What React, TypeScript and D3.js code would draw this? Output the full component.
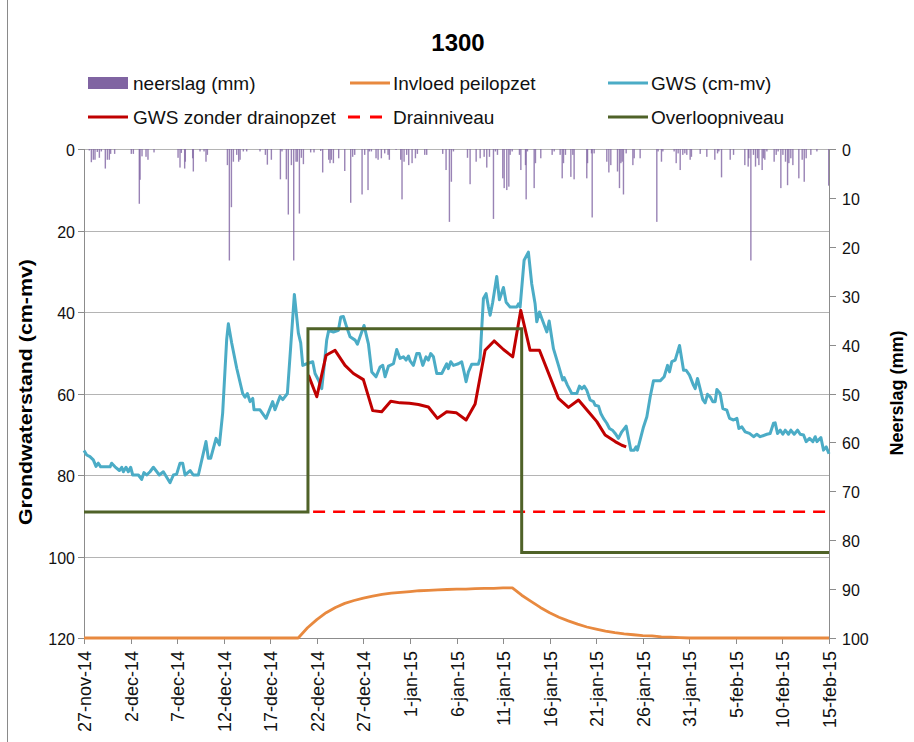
import React, { useRef, useEffect } from "react";
import * as d3 from "d3";

const W = 914;
const H = 742;
const START = Date.UTC(2014, 10, 27);

const tickLabels = [
  "27-nov-14", "2-dec-14", "7-dec-14", "12-dec-14", "17-dec-14", "22-dec-14",
  "27-dec-14", "1-jan-15", "6-jan-15", "11-jan-15", "16-jan-15", "21-jan-15",
  "26-jan-15", "31-jan-15", "5-feb-15", "10-feb-15", "15-feb-15",
];
const leftTicks = [0, 20, 40, 60, 80, 100, 120];
const rightTicks = [0, 10, 20, 30, 40, 50, 60, 70, 80, 90, 100];

// neerslag: [dag sinds 27-nov, mm]
const neerslag: [number, number][] = [
  [0.57, 0.3], [0.79, 2.7], [1.0, 2.2], [1.18, 2.2], [1.43, 0.6], [1.65, 1.8], [1.86, 0.5], [2.29, 4.0], [2.51, 2.2], [2.72, 2.2], [2.86, 1.0], [3.29, 1.0],
  [5.08, 1.0], [5.3, 1.0], [5.94, 11.2], [6.02, 6.3], [6.23, 1.5], [6.66, 1.6], [6.87, 2.2], [7.52, 0.7],
  [10.1, 1.8], [10.31, 3.8], [10.45, 0.8], [10.81, 4.0], [10.88, 2.6], [11.67, 1.9], [11.74, 4.6], [12.46, 0.5], [12.89, 0.5], [13.1, 2.6], [13.25, 1.2],
  [15.4, 3.3], [15.61, 22.8], [15.83, 11.9], [16.04, 2.6], [16.4, 1.2], [16.61, 2.6], [16.76, 2.2], [17.11, 0.5], [17.47, 0.5],
  [18.9, 0.5], [19.48, 1.2], [19.69, 3.2], [20.12, 2.2],
  [21.09, 6.2], [21.26, 0.5], [21.73, 6.2], [21.94, 13.4], [22.27, 3.3], [22.52, 22.8], [22.77, 2.6], [22.91, 2.6], [23.13, 13.2], [23.34, 1.8], [23.56, 3.1],
  [24.34, 0.7], [24.7, 0.7], [25.42, 0.4], [25.63, 4.8], [26.28, 2.2], [26.42, 2.9], [26.56, 2.2], [26.78, 2.9], [27.35, 1.9], [28.0, 4.5], [28.64, 11.0], [28.85, 1.6], [29.07, 1.2], [29.86, 9.3], [30.14, 1.2], [30.5, 8.4], [30.64, 0.5], [30.86, 0.5],
  [31.36, 1.9], [31.58, 2.2], [31.93, 1.9], [32.29, 0.9], [32.65, 1.2], [32.79, 2.2], [33.51, 0.2], [34.01, 2.2], [34.15, 10.3], [34.37, 2.6], [34.65, 1.2], [34.87, 3.3], [35.23, 2.9], [35.59, 1.9], [35.8, 1.0], [36.59, 1.2], [36.8, 1.2],
  [38.52, 1.0], [38.88, 4.3], [39.24, 14.9], [39.45, 6.7], [39.67, 0.5],
  [41.18, 1.8], [41.46, 7.2], [42.11, 2.6], [42.54, 1.9], [42.97, 1.6], [43.25, 3.8], [43.54, 1.6], [43.97, 14.3], [44.18, 0.5], [44.4, 1.2], [44.97, 6.0], [45.12, 8.0], [45.4, 8.4], [45.62, 7.7], [45.76, 1.2], [45.98, 0.5],
  [46.76, 1.2], [46.91, 4.3], [47.41, 3.3], [47.48, 10.3], [47.62, 0.5], [48.34, 8.0], [48.48, 2.9], [49.05, 1.9], [50.27, 1.2], [50.49, 0.5], [51.13, 1.2], [51.35, 6.0], [51.49, 2.9], [51.7, 1.2], [52.28, 5.7], [52.49, 1.2], [52.63, 6.2],
  [53.99, 6.0], [54.07, 2.9], [54.5, 0.9], [54.57, 14.0], [54.78, 0.9], [56.14, 2.6], [56.36, 4.8], [56.57, 3.3], [57.29, 4.6], [57.5, 8.0], [57.65, 2.9], [57.79, 2.6], [57.93, 9.3], [58.22, 0.9], [58.94, 3.3], [59.08, 1.9], [59.72, 1.9],
  [61.51, 14.9], [61.65, 0.5], [62.01, 2.6], [62.16, 0.5], [63.37, 0.5], [63.59, 2.9], [63.8, 0.9], [64.02, 4.3], [64.3, 1.2], [64.52, 0.9], [64.73, 1.2], [65.09, 2.2], [65.23, 1.6], [66.17, 1.0], [66.88, 1.6], [67.74, 2.2], [68.03, 0.9], [68.17, 0.5], [68.46, 5.8], [69.39, 2.2], [69.75, 1.2],
  [70.96, 3.3], [71.32, 3.6], [71.39, 1.9], [71.61, 22.8], [71.89, 1.2], [72.11, 3.6], [72.32, 1.9], [72.47, 3.3], [72.82, 4.3], [72.97, 1.9], [73.11, 2.2], [73.33, 0.5], [74.11, 2.6], [74.33, 1.2], [74.54, 0.5], [74.83, 8.0], [75.05, 1.2], [75.33, 2.6], [75.55, 7.4], [75.69, 2.9], [75.9, 1.9], [76.12, 3.3], [76.76, 6.0], [77.12, 2.2], [77.34, 6.7], [77.55, 1.9], [78.05, 1.2], [78.7, 0.5], [79.97, 7.5],
];

// GWS (cm-mv)
const gws: [number, number][] = [
  [0, 74.0], [0.29, 75.1], [0.64, 75.5], [1.0, 76.3], [1.29, 77.9], [1.54, 77.1], [1.79, 78], [2.8, 78], [2.97, 77.1], [3.33, 78], [3.8, 78.9],
  [4.05, 78.1], [4.23, 79.2], [4.51, 78.1], [4.76, 79.2], [5.01, 78.1], [5.23, 80], [5.84, 80], [6.19, 81.1], [6.44, 79.4], [6.73, 80], [7.09, 79.2], [7.45, 78.1],
  [8.09, 80], [8.52, 79.2], [9.24, 81.9], [9.6, 80], [9.95, 79.8], [10.31, 77.1], [10.6, 77.1], [10.85, 80], [11.4, 78.9], [11.74, 80], [12.28, 80],
  [13.1, 71.8], [13.35, 75.9], [13.6, 75.9], [14.18, 71], [14.54, 72.6], [14.89, 64.8], [15.32, 46.8], [15.5, 42.9], [15.86, 47.6], [16.4, 53.8], [17.04, 60], [17.29, 60.9],
  [17.54, 60], [17.83, 62], [18.12, 61.2], [18.26, 64], [18.9, 64], [19.55, 66.1], [20.26, 62], [20.51, 64], [21.05, 60.7], [21.34, 61.5], [21.84, 60],
  [22.2, 48.4], [22.59, 35.7], [23.02, 45.2], [23.27, 47.6], [23.49, 53.1], [23.92, 52.7], [24.56, 52.2], [24.81, 55.1], [25.17, 56.7], [25.53, 58.8], [25.78, 53.5],
  [26.06, 46.9], [26.28, 44.5], [26.78, 44.9], [27.32, 44.5], [27.57, 41.2], [27.85, 41.1], [28.21, 43.7], [28.57, 46.1], [29.11, 46.9], [29.36, 47.9], [29.64, 46.1],
  [30.07, 43.3], [30.54, 47.8], [30.9, 54.7], [31.36, 55.9], [31.79, 53.5], [32.08, 53.1], [32.33, 55.9], [32.69, 53.3], [33.23, 52.7], [33.58, 49.2],
  [33.94, 51.4], [34.3, 51], [34.59, 51.8], [34.84, 50.8], [35.02, 52], [35.37, 53.1], [35.73, 50.2], [36.02, 50.2], [36.38, 53.1], [36.73, 51], [36.98, 51.8],
  [37.23, 50.2], [37.52, 51], [37.88, 55.1], [38.42, 55.1], [38.77, 53.5], [38.95, 52.7], [39.13, 53.9], [39.38, 52.2], [39.67, 53.1], [40.2, 52.7], [40.56, 52.2],
  [40.81, 54.7], [41.03, 57.1], [41.28, 54.7], [41.64, 52.8], [42.35, 52.8], [42.53, 51.4], [42.89, 36.7], [43.18, 35.5], [43.43, 38.8], [43.61, 40.8], [43.89, 37.6],
  [44.32, 31.3], [44.61, 37], [45.04, 34], [45.33, 37.6], [45.76, 38.8], [46.47, 38.8], [46.65, 38], [46.83, 38.8], [47.26, 27.3], [47.72, 25.3], [48.08, 33.1],
  [48.44, 38], [48.62, 42.4], [48.91, 40], [49.16, 41.6], [49.7, 44.9], [49.95, 42.2], [50.41, 49], [50.95, 53.1], [51.41, 56.7], [51.56, 56.1], [51.92, 58],
  [52.38, 60], [52.92, 60], [53.2, 58.2], [53.46, 58.8], [53.71, 58.2], [53.99, 59.2], [54.35, 61.6], [54.71, 62], [54.89, 62.9], [55.25, 63.1], [55.5, 64.9],
  [55.78, 66.1], [56.14, 67.3], [56.43, 68.6], [56.79, 69.1], [57.04, 69.8], [57.39, 71], [57.75, 69.4], [58.22, 68], [58.47, 71], [58.72, 73.9], [59.08, 73.9],
  [59.29, 73.1], [59.43, 73.9], [59.72, 71.4], [60.08, 68.2], [60.44, 65.7], [60.8, 60.8], [61.15, 56.9], [61.87, 56.9], [62.3, 55.9], [62.66, 53.1], [62.87, 54.7],
  [63.12, 52.2], [63.48, 51.8], [63.95, 48.2], [64.38, 54.3], [64.66, 54.3], [65.02, 55.5], [65.45, 58], [65.63, 58.8], [65.88, 56.3], [66.09, 58.2], [66.45, 61.5],
  [66.7, 62.3], [66.95, 60.2], [67.24, 60.8], [67.53, 62], [67.78, 62], [67.96, 59], [68.31, 60], [68.6, 63.7], [69.03, 64.1], [69.32, 66.1], [69.75, 66.5],
  [70.11, 66.1], [70.32, 68.6], [70.64, 68.2], [71, 69.4], [71.46, 69.8], [71.9, 70.6], [72.25, 70], [72.61, 70.6], [73.33, 70], [73.68, 69.8], [74.04, 67.3],
  [74.22, 67.2], [74.47, 69.8], [74.76, 69], [75.04, 70], [75.3, 69], [75.65, 70], [75.9, 69], [76.26, 70], [76.62, 69], [76.91, 70], [77.27, 70.2], [77.55, 71.8],
  [77.91, 71], [78.27, 71.8], [78.52, 70.6], [78.7, 71.8], [79.13, 70.8], [79.41, 73.9], [79.7, 73.1], [80, 74.8],
];

// GWS zonder drainopzet
const gwsZonder: [number, number][] = [
  [24.1, 55.5], [25.0, 60.8], [26.0, 50.6], [26.96, 49.4], [28.03, 53.1], [28.93, 55.1], [30.0, 56.6], [31.0, 64.2], [31.97, 64.5], [32.94, 61.9],
  [33.94, 62.3], [34.94, 62.4], [35.91, 62.7], [36.98, 63.3], [37.95, 66.1], [38.95, 64.5], [39.96, 64.7], [41.03, 66.5], [42.0, 62.6], [43.07, 49.4],
  [44.04, 47.1], [45.04, 49.2], [46.04, 51], [46.9, 39.6], [47.9, 49.4], [48.91, 49.4], [50.95, 61.2], [52.02, 63.4], [53.1, 61.6], [54.17, 64.5],
  [55.07, 66.9], [55.96, 70.2], [57.04, 71.8], [57.75, 72.7], [58.22, 73.1],
];

// Invloed peilopzet
const peilopzet: [number, number][] = [
  [0, 120], [23, 120], [24, 117.5], [25, 115.5], [26, 113.8], [27, 112.5], [28, 111.5], [29, 110.8], [30, 110.2], [31, 109.7], [32, 109.3],
  [33, 109], [34, 108.8], [35, 108.6], [36, 108.4], [37, 108.3], [38, 108.2], [39, 108.1], [40, 108], [41, 108], [42, 107.9], [43, 107.8],
  [44, 107.8], [45, 107.7], [46, 107.7], [47, 109.5], [48, 111], [49, 112.5], [50, 113.8], [51, 114.9], [52, 115.8], [53, 116.6], [54, 117.3],
  [55, 117.8], [56, 118.3], [57, 118.7], [58, 119], [59, 119.2], [60, 119.4], [61, 119.5], [62, 119.7], [63, 119.8], [64, 119.9], [65, 120], [80, 120],
];

const drainniveau: [number, number][] = [[24.6, 89], [80, 89]];
const overloopniveau: [number, number][] = [[0, 89.1], [24.05, 44.1], [47, 99], [80, 99]];

const FONT = "'Liberation Sans', Arial, sans-serif";
const PURPLE = "#8064A2";
const ORANGE = "#E8893F";
const BLUE = "#4BACC6";
const RED = "#C00000";
const DRAIN = "#FF0000";
const GREEN = "#4F6228";

function App() {
  const svgRef = useRef<SVGSVGElement>(null);

  useEffect(() => {
    const svg = d3.select(svgRef.current);
    svg.selectAll("*").remove();

    const dag = (d: number) => new Date(START + d * 864e5);
    const x = d3.scaleUtc().domain([dag(0), dag(80)]).range([84, 829]);
    const y = d3.scaleLinear().domain([0, 120]).range([149, 638]);
    const y2 = d3.scaleLinear().domain([0, 100]).range([149, 638]);

    // chart rand
    svg.append("line").attr("x1", 7.5).attr("x2", 7.5).attr("y1", 0).attr("y2", H)
      .attr("stroke", "#8a8a8a").attr("stroke-width", 1);

    // titel
    svg.append("text").attr("x", 458).attr("y", 51).attr("text-anchor", "middle")
      .attr("font-family", FONT).attr("font-size", 24).attr("font-weight", "bold")
      .text("1300");

    // gridlijnen
    svg.append("g").selectAll("line").data(leftTicks.slice(0, -1)).join("line")
      .attr("x1", 84).attr("x2", 829)
      .attr("y1", (d) => Math.round(y(d)) + 0.5).attr("y2", (d) => Math.round(y(d)) + 0.5)
      .attr("stroke", "#b4b4b4").attr("stroke-width", 1.2);

    // neerslag staven
    svg.append("g").selectAll("rect").data(neerslag).join("rect")
      .attr("x", (d) => x(dag(d[0])) - 0.7)
      .attr("y", y2(0))
      .attr("width", 1.4)
      .attr("height", (d) => y2(d[1]) - y2(0))
      .attr("fill", PURPLE)
      .attr("opacity", 0.8);

    // assen
    const axisCol = "#8c8c8c";
    svg.append("line").attr("x1", 84.5).attr("x2", 84.5).attr("y1", 149).attr("y2", 639)
      .attr("stroke", axisCol);
    svg.append("line").attr("x1", 829.5).attr("x2", 829.5).attr("y1", 149).attr("y2", 639)
      .attr("stroke", axisCol);
    svg.append("line").attr("x1", 84).attr("x2", 830).attr("y1", 638.5).attr("y2", 638.5)
      .attr("stroke", axisCol);

    const left = svg.append("g");
    leftTicks.forEach((t) => {
      const yy = Math.round(y(t)) + 0.5;
      left.append("line").attr("x1", 78).attr("x2", 84).attr("y1", yy).attr("y2", yy).attr("stroke", axisCol);
      left.append("text").attr("x", 75).attr("y", yy + 6).attr("text-anchor", "end")
        .attr("font-family", FONT).attr("font-size", 16).attr("fill", "#111").text(t);
    });

    const right = svg.append("g");
    rightTicks.forEach((t) => {
      const yy = Math.round(y2(t)) + 0.5;
      right.append("line").attr("x1", 830).attr("x2", 836).attr("y1", yy).attr("y2", yy).attr("stroke", axisCol);
      right.append("text").attr("x", 842).attr("y", yy + 6).attr("text-anchor", "start")
        .attr("font-family", FONT).attr("font-size", 16).attr("fill", "#111").text(t);
    });

    const bottom = svg.append("g");
    tickLabels.forEach((lab, i) => {
      const xx = Math.round(x(dag(i * 5))) + 0.5;
      bottom.append("line").attr("x1", xx).attr("x2", xx).attr("y1", 638).attr("y2", 644).attr("stroke", axisCol);
      bottom.append("text")
        .attr("transform", `translate(${xx + 6},651) rotate(-90)`)
        .attr("text-anchor", "end")
        .attr("font-family", FONT).attr("font-size", 18).attr("fill", "#111").text(lab);
    });

    // as titels
    svg.append("text").attr("transform", "translate(32,392) rotate(-90)")
      .attr("text-anchor", "middle").attr("font-family", FONT).attr("font-size", 18)
      .attr("font-weight", "bold").attr("textLength", 266).attr("lengthAdjust", "spacingAndGlyphs")
      .text("Grondwaterstand (cm-mv)");
    svg.append("text").attr("transform", "translate(903,393) rotate(-90)")
      .attr("text-anchor", "middle").attr("font-family", FONT).attr("font-size", 18)
      .attr("font-weight", "bold").text("Neerslag (mm)");

    // lijnen
    const lijn = d3.line<[number, number]>().x((d) => x(dag(d[0]))).y((d) => y(d[1]));
    const trap = d3.line<[number, number]>().x((d) => x(dag(d[0]))).y((d) => y(d[1])).curve(d3.curveStepAfter);

    svg.append("path").attr("d", lijn(peilopzet)).attr("fill", "none")
      .attr("stroke", ORANGE).attr("stroke-width", 2.8).attr("stroke-linejoin", "round");
    svg.append("path").attr("d", lijn(gws)).attr("fill", "none")
      .attr("stroke", BLUE).attr("stroke-width", 3).attr("stroke-linejoin", "round");
    svg.append("path").attr("d", lijn(gwsZonder)).attr("fill", "none")
      .attr("stroke", RED).attr("stroke-width", 3).attr("stroke-linejoin", "round");
    svg.append("path").attr("d", lijn(drainniveau)).attr("fill", "none")
      .attr("stroke", DRAIN).attr("stroke-width", 2.6).attr("stroke-dasharray", "12 8");
    svg.append("path").attr("d", trap(overloopniveau)).attr("fill", "none")
      .attr("stroke", GREEN).attr("stroke-width", 3);

    // legenda
    const leg = svg.append("g").attr("font-family", FONT).attr("font-size", 19).attr("fill", "#111");
    const row1 = 83;
    const row2 = 117;
    leg.append("rect").attr("x", 88).attr("y", row1 - 6).attr("width", 40).attr("height", 12).attr("fill", PURPLE);
    leg.append("text").attr("x", 133).attr("y", row1 + 7).text("neerslag (mm)");
    leg.append("line").attr("x1", 350).attr("x2", 390).attr("y1", row1).attr("y2", row1).attr("stroke", ORANGE).attr("stroke-width", 3);
    leg.append("text").attr("x", 393).attr("y", row1 + 7).text("Invloed peilopzet");
    leg.append("line").attr("x1", 608).attr("x2", 648).attr("y1", row1).attr("y2", row1).attr("stroke", BLUE).attr("stroke-width", 3);
    leg.append("text").attr("x", 651).attr("y", row1 + 7).text("GWS (cm-mv)");
    leg.append("line").attr("x1", 88).attr("x2", 128).attr("y1", row2).attr("y2", row2).attr("stroke", RED).attr("stroke-width", 3);
    leg.append("text").attr("x", 133).attr("y", row2 + 7).text("GWS zonder drainopzet");
    leg.append("line").attr("x1", 348).attr("x2", 382).attr("y1", row2).attr("y2", row2).attr("stroke", DRAIN)
      .attr("stroke-width", 3).attr("stroke-dasharray", "12 10");
    leg.append("text").attr("x", 393).attr("y", row2 + 7).text("Drainniveau");
    leg.append("line").attr("x1", 608).attr("x2", 648).attr("y1", row2).attr("y2", row2).attr("stroke", GREEN).attr("stroke-width", 3);
    leg.append("text").attr("x", 651).attr("y", row2 + 7).text("Overloopniveau");
  }, []);

  return (
    <svg
      ref={svgRef}
      width={W}
      height={H}
      style={{ position: "absolute", left: 0, top: 0, background: "#fff" }}
    />
  );
}

export default App;
